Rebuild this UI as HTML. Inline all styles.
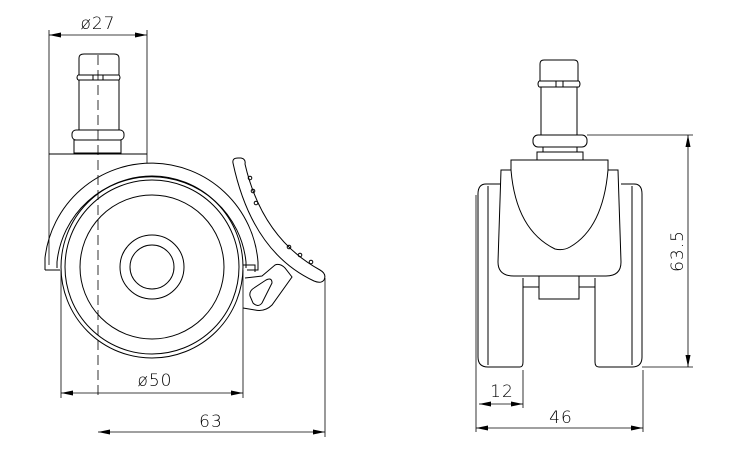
<!DOCTYPE html>
<html><head><meta charset="utf-8"><style>
html,body{margin:0;padding:0;background:#fff;}
svg{display:block;}
text{font-family:"DejaVu Sans","Liberation Sans",sans-serif;font-size:17px;font-weight:300;letter-spacing:1px;fill:#000;}
</style></head><body>
<svg width="730" height="453" viewBox="0 0 730 453" xmlns="http://www.w3.org/2000/svg">
<defs>
<marker id="a" viewBox="0 0 12 5" refX="12" refY="2.5" markerWidth="12" markerHeight="5" orient="auto-start-reverse" markerUnits="userSpaceOnUse"><path d="M0,0 L12,2.5 L0,5 z" fill="#000"/></marker>
</defs>
<g fill="none" stroke="#000" stroke-width="1">
<!-- LEFT VIEW -->
<line x1="49" y1="30" x2="49" y2="265" stroke-width="0.8"/>
<line x1="147" y1="30" x2="147" y2="163" stroke-width="0.8"/>
<line x1="49" y1="35" x2="147" y2="35" stroke-width="0.8" marker-start="url(#a)" marker-end="url(#a)"/>
<line x1="49" y1="154" x2="147" y2="154"/>
<path d="M79,75 L79,58 Q79,54 84,54 L114,54 Q119,54 119,58 L119,75"/>
<path d="M78,75 L119,75 M78,80 L119,80 M78,75 Q76,77.5 78,80 M119,75 Q121,77.5 119,80 M93,75 L93,80 M103,75 L103,80"/>
<path d="M79,80 L79,130 M119,80 L119,130"/>
<rect x="72" y="130" width="52" height="10" rx="4"/>
<rect x="74" y="140" width="47" height="13"/>
<line x1="98" y1="55" x2="98" y2="400" stroke-width="0.8" stroke-dasharray="10,5"/>
<path d="M45,270 L45,258 A107,107 0 0 1 258,262 L258,270 L247,270"/>
<path d="M57,268 L57,262 A95,95 0 0 1 246,262 L246,268"/>
<path d="M45,270 L60,270"/>
<path d="M243,265 L255,265 L255,272"/>
<circle cx="152" cy="267" r="91"/>
<circle cx="152" cy="267" r="87"/>
<circle cx="152" cy="267" r="72"/>
<circle cx="152" cy="267" r="32"/>
<circle cx="152" cy="267" r="22"/>
<path d="M233,163 Q232,158 238,158 L241,158 Q246,159 245,164 Q262,238 320,270 Q327,274 324,280 Q321,284 314,281 Q252,252 233,163 Z"/>
<circle cx="250" cy="178" r="1.8"/><circle cx="253" cy="191" r="1.8"/><circle cx="256" cy="203" r="1.8"/>
<circle cx="289" cy="247" r="1.8"/><circle cx="300" cy="255" r="1.8"/><circle cx="311" cy="262" r="1.8"/>
<path d="M245,278 L262,276 L275,265 Q280,263 285,268 L292,277 L272,305 Q265,312 255,310 L243,308"/>
<path d="M254,288 L266,280 Q272,277 272,283 L262,303 Q258,308 253,303 L250,296 Q249,291 254,288 Z"/>
<line x1="61" y1="270" x2="61" y2="398" stroke-width="0.8"/>
<line x1="243" y1="270" x2="243" y2="398" stroke-width="0.8"/>
<line x1="61" y1="393" x2="243" y2="393" stroke-width="0.8" marker-start="url(#a)" marker-end="url(#a)"/>
<line x1="325" y1="278" x2="325" y2="437" stroke-width="0.8"/>
<line x1="98" y1="432" x2="325" y2="432" stroke-width="0.8" marker-start="url(#a)" marker-end="url(#a)"/>

<!-- RIGHT VIEW -->
<path d="M540,81 L540,64 Q540,60 544,60 L574,60 Q578,60 578,64 L578,81"/>
<path d="M539,81 L579,81 M539,87 L579,87 M539,81 Q537,84 539,87 M579,81 Q581,84 579,87 M556,81 L556,87 M563,81 L563,87"/>
<path d="M541,87 L541,135 M577,87 L577,135"/>
<rect x="533" y="135" width="54" height="12" rx="5"/>
<path d="M543,147 L543,152 M577,147 L577,152"/>
<rect x="537" y="152" width="46" height="8"/>
<path d="M511,160 L608,160 L608,170 L618,170 L621,262 Q621,276 606,276 L514,276 Q498,276 498,262 L501,170 L511,170 Z"/>
<path d="M511,170 Q516,230 555,249 Q563,251 570,247 Q603,228 608,170"/>
<path d="M501,184 L486,184 Q478,184 478,194 L478,357 Q478,367 488,367 L520,367 Q523,367 523,362 L523,278"/>
<line x1="488" y1="186" x2="488" y2="365"/>
<path d="M621,184 L634,184 Q642,184 642,194 L642,357 Q642,367 632,367 L599,367 Q595,367 595,362 L595,278"/>
<line x1="632" y1="186" x2="632" y2="365"/>
<path d="M523,287 L539,287 M579,287 L595,287"/>
<rect x="539" y="276" width="40" height="23"/>
<line x1="587" y1="135" x2="693" y2="135" stroke-width="0.8"/>
<line x1="642" y1="367" x2="693" y2="367" stroke-width="0.8"/>
<line x1="688" y1="135" x2="688" y2="367" stroke-width="0.8" marker-start="url(#a)" marker-end="url(#a)"/>
<line x1="476" y1="195" x2="476" y2="432" stroke-width="0.8"/>
<line x1="523" y1="370" x2="523" y2="408" stroke-width="0.8"/>
<line x1="643" y1="370" x2="643" y2="432" stroke-width="0.8"/>
<line x1="479" y1="404" x2="523" y2="404" stroke-width="0.8" marker-start="url(#a)" marker-end="url(#a)"/>
<line x1="476" y1="428" x2="643" y2="428" stroke-width="0.8" marker-start="url(#a)" marker-end="url(#a)"/>
</g>
<text x="98" y="29" text-anchor="middle">ø27</text>
<text x="155" y="386" text-anchor="middle">ø50</text>
<text x="211" y="427" text-anchor="middle">63</text>
<text x="502" y="397" text-anchor="middle">12</text>
<text x="561" y="423" text-anchor="middle">46</text>
<text x="0" y="0" text-anchor="middle" transform="translate(683,251) rotate(-90)">63.5</text>
</svg>
</body></html>
